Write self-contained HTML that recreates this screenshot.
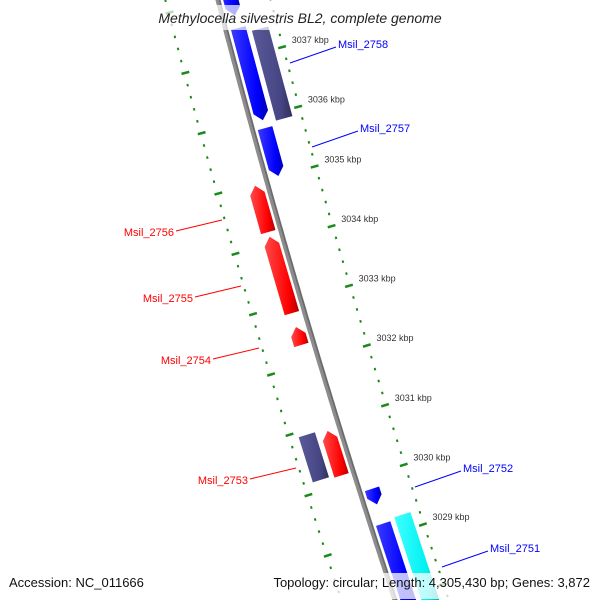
<!DOCTYPE html>
<html><head><meta charset="utf-8"><style>
html,body{margin:0;padding:0;background:#fff;overflow:hidden;width:600px;height:600px;}
svg{display:block;font-family:"Liberation Sans",sans-serif;}
</style></head><body>
<svg id="map" width="600" height="600" viewBox="0 0 600 600" xmlns="http://www.w3.org/2000/svg">
<defs>
<linearGradient id="gBlue" x1="0" x2="1" y1="0" y2="0"><stop offset="0" stop-color="#3a3aff"/><stop offset="0.7" stop-color="#0000ff"/><stop offset="1" stop-color="#0000b0"/></linearGradient>
<linearGradient id="gRed" x1="0" x2="1" y1="0" y2="0"><stop offset="0" stop-color="#ff4a4a"/><stop offset="0.7" stop-color="#ff0000"/><stop offset="1" stop-color="#b00000"/></linearGradient>
<linearGradient id="gPurple" x1="0" x2="1" y1="0" y2="0"><stop offset="0" stop-color="#5a5a99"/><stop offset="0.7" stop-color="#464685"/><stop offset="1" stop-color="#30305e"/></linearGradient>
<linearGradient id="gCyan" x1="0" x2="1" y1="0" y2="0"><stop offset="0" stop-color="#40ffff"/><stop offset="0.7" stop-color="#00f0f0"/><stop offset="1" stop-color="#00a8a8"/></linearGradient>
</defs>
<g id="ticks"></g>
<g id="backbone"></g>
<g id="genes"></g>
<g id="labels"></g>
<rect x="140" y="5" width="320" height="25" fill="#fff" fill-opacity="0.7"/>
<text x="300" y="23" text-anchor="middle" font-size="14" font-style="italic" fill="#222">Methylocella silvestris BL2, complete genome</text>
<rect x="258" y="573" width="338" height="26" fill="#fff" fill-opacity="0.75"/>
<text x="9" y="587" font-size="13" fill="#111">Accession: NC_011666</text>
<text x="590" y="587" font-size="13" fill="#111" text-anchor="end">Topology: circular; Length: 4,305,430 bp; Genes: 3,872</text>
</svg>
<script>
// data
const geneNames = ["Msil_2759","Msil_2758a","Msil_2758","Msil_2757","Msil_2756","Msil_2755","Msil_2754","Msil_2753b","Msil_2753","Msil_2752","Msil_2751a","Msil_2751"];
const geneStart = [3038.28,3037.48,3037.38,3035.81,3034.96,3034.11,3032.61,3030.92,3030.88,3029.79,3029.21,3029.25];
const geneEnd   = [3037.69,3035.94,3035.88,3035.01,3034.19,3032.84,3032.31,3030.17,3030.14,3029.53,3027.7,3027.7];
const geneLane  = [1,1,2,1,-1,-1,-1,-2,-1,1,1,2];
const geneColor = ["blue","blue","purple","blue","red","red","red","purple","red","blue","blue","cyan"];
const geneArrow = [true,true,false,true,true,true,true,false,true,true,true,false];
const labelGenes = ["Msil_2758","Msil_2757","Msil_2756","Msil_2755","Msil_2754","Msil_2753","Msil_2752","Msil_2751"];
const labelX = [338,360,174,193,211,248,463,490];
const labelY = [48,132,236,302,364,484,472,552];
const tickLabels = [3037,3036,3035,3034,3033,3032,3031,3030,3029];

const NS="http://www.w3.org/2000/svg";
function bx(s){return 218+0.2584*s+6.1e-5*s*s;}
function bslope(s){return 0.2584+2*6.1e-5*s;}
function sOf(k){return 240+(3034-k)*60;}
function pt(s,d){const m=bslope(s),n=Math.sqrt(1+m*m);return [bx(s)+d/n, s-d*m/n];}
function el(tag,attrs,parent){const e=document.createElementNS(NS,tag);for(const k in attrs)e.setAttribute(k,attrs[k]);parent.appendChild(e);return e;}

// backbone
const bb=document.getElementById('backbone');
let pts=[];for(let s=-30;s<=630;s+=5){pts.push(bx(s).toFixed(1)+','+s);}
const bl=el('polyline',{points:pts.join(' '),fill:'none',stroke:'#8c8c8c','stroke-width':5},bb);


const bl2=el('polyline',{points:pts.join(' '),fill:'none',stroke:'#6a6a6a','stroke-width':1.5,transform:'translate(1.5,0)'},bb);



// ticks
const tg=document.getElementById('ticks');
for(let i=0;i<=55;i++){
  const k=3038.6-i*0.2, s=sOf(k);
  const major=Math.abs(k-Math.round(k))<0.01;
  [1,-1].forEach(side=>{
    const d0=side*(major?46:50), d1=side*(major?54:52);
    const a=pt(s,d0),b=pt(s,d1);
    if(a[1]<-5||a[1]>605) return;
    const t=el('line',{x1:a[0],y1:a[1],x2:b[0],y2:b[1],stroke:'#1a8a1a','stroke-width':2.5},tg);
    
    
  });
}
tickLabels.forEach(k=>{
  const p=pt(sOf(k),58);
  const t=el('text',{x:p[0]+2,y:p[1]-2,'font-size':9,fill:'#333'},tg);
  t.textContent=k+' kbp';
  
  
});

// genes
const fills={blue:'url(#gBlue)',red:'url(#gRed)',purple:'url(#gPurple)',cyan:'url(#gCyan)'};
const gg=document.getElementById('genes');
geneNames.forEach((name,i)=>{
  const s1=sOf(geneStart[i]), s2=sOf(geneEnd[i]);
  const lane=geneLane[i], sg=Math.sign(lane);
  const dIn=sg*(Math.abs(lane)===1?5:25), dOut=sg*(Math.abs(lane)===1?20:42);
  const dm=(dIn+dOut)/2;
  let poly;
  if(geneArrow[i]){
    const h=Math.min(8,(s2-s1)*0.5);
    if(lane>0){
      poly=[pt(s1,dIn),pt(s2-h,dIn),pt(s2,dm),pt(s2-h,dOut),pt(s1,dOut)];
    } else {
      poly=[pt(s2,dIn),pt(s1+h,dIn),pt(s1,dm),pt(s1+h,dOut),pt(s2,dOut)];
    }
  } else {
    poly=[pt(s1,dIn),pt(s2,dIn),pt(s2,dOut),pt(s1,dOut)];
  }
  const p=el('polygon',{points:poly.map(q=>q[0].toFixed(1)+','+q[1].toFixed(1)).join(' '),fill:fills[geneColor[i]]},gg);
  
  
});

// labels
const lg=document.getElementById('labels');
labelGenes.forEach((name,i)=>{
  const right=labelX[i]>300, col=right?'#0000ff':'#ff0000';
  const ln= right ? el('line',{x1:labelX[i]-48,y1:labelY[i]+15,x2:labelX[i]-2,y2:labelY[i]-1,stroke:col,'stroke-width':1},lg)
                  : el('line',{x1:labelX[i]+2,y1:labelY[i]-5,x2:labelX[i]+48,y2:labelY[i]-16,stroke:col,'stroke-width':1},lg);
  
  
  const t=el('text',{x:labelX[i],y:labelY[i],'font-size':11,fill:col,'text-anchor':right?'start':'end'},lg);
  t.textContent=name;
  
  
});
</script>
</body></html>
